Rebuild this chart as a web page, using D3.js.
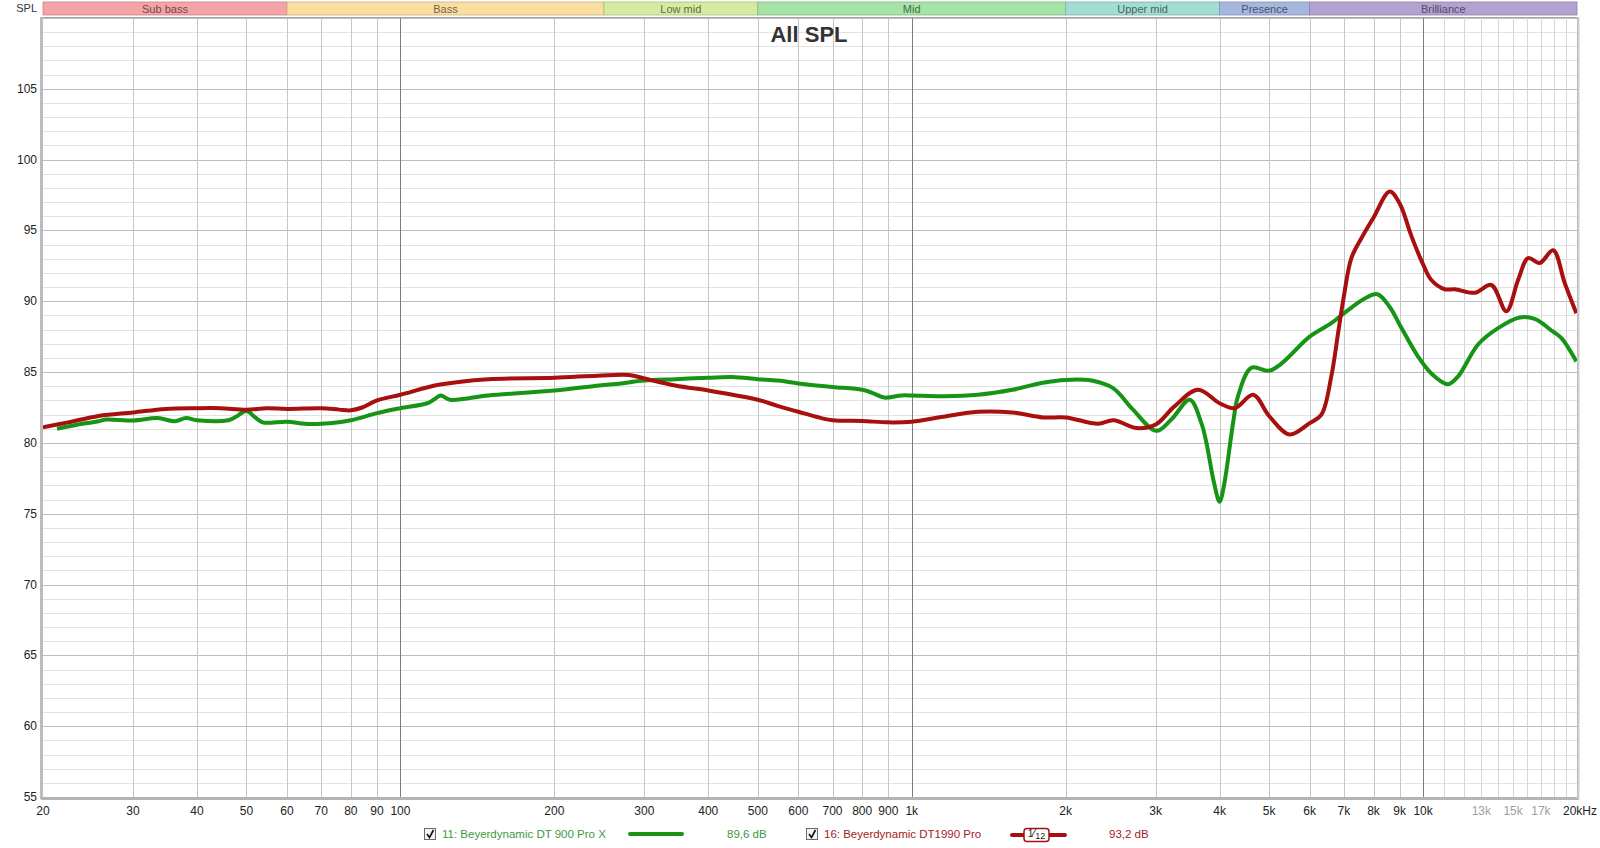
<!DOCTYPE html>
<html>
<head>
<meta charset="utf-8">
<script src="https://cdn.jsdelivr.net/npm/d3@7"></script>
<style>
  body { margin: 0; background: #fff; }
  svg { display: block; font-family: "Liberation Sans", Arial, sans-serif; }
</style>
</head>
<body>
<div id="chart"></div>
<script>
// frequency bands along the top
var bandNames = ["Sub bass", "Bass", "Low mid", "Mid", "Upper mid", "Presence", "Brilliance"];
var bandEdges = [20, 60, 250, 500, 2000, 4000, 6000, 20000];
var bandColors = ["#f5a3a6", "#f9dea0", "#d5eba0", "#a6e3a6", "#a2ddd3", "#a5b6df", "#b3a1d1"];

// DT 900 Pro X (green)
var greenFreq = [21.3, 23.2, 25.7, 26.6, 30, 33.5, 36.2, 38.1, 40, 46.1, 47.7, 50, 52, 53.8, 60, 65, 70, 80, 90,
  100, 112.8, 116.7, 119.8, 125, 148.5, 200, 245, 270, 300, 345, 400, 446, 500, 548, 600, 700, 800, 842, 883,
  954, 1000, 1153, 1347, 1573, 1805, 2000, 2247, 2480, 2700, 3010, 3218, 3498, 3685, 3770, 3900, 4000, 4080,
  4250, 4346, 4615, 5000, 5284, 6000, 6615, 7000, 7690, 8141, 8606, 9000, 9777, 10380, 11190, 11710, 12810,
  14020, 15450, 16530, 17960, 18650, 19940];
var greenDb = [81.0, 81.27, 81.53, 81.65, 81.58, 81.75, 81.53, 81.75, 81.6, 81.6, 81.85, 82.25, 81.8, 81.45, 81.5, 81.35, 81.35, 81.6, 82.1,
  82.45, 82.8, 83.1, 83.35, 83.05, 83.35, 83.7, 84.05, 84.2, 84.4, 84.5, 84.6, 84.65, 84.5, 84.4, 84.2, 83.95, 83.75, 83.5, 83.2,
  83.35, 83.35, 83.3, 83.4, 83.75, 84.25, 84.45, 84.4, 83.85, 82.4, 80.85, 81.65, 83.05, 81.4, 80.0, 77.2, 75.85, 77.0,
  81.4, 83.3, 85.3, 85.1, 85.6, 87.5, 88.45, 89.15, 90.2, 90.5, 89.6, 88.35, 86.1, 84.9, 84.15, 84.7, 86.95,
  88.1, 88.85, 88.75, 87.85, 87.4, 85.75];

// DT1990 Pro (red)
var redFreq = [20, 22.4, 25.7, 30, 34.7, 40, 44.5, 50, 54.8, 60, 70, 75.9, 80, 84.2, 90, 100, 118.8, 148.5, 200,
  243.5, 280, 300, 344.6, 400, 446, 500, 548, 600, 650, 700, 800, 900, 1000, 1153, 1347, 1573, 1805, 2000, 2314,
  2480, 2750, 3000, 3268, 3630, 4000, 4280, 4654, 5000, 5484, 6000, 6327, 6615, 6820, 7000, 7240, 7575, 8000,
  8606, 9000, 9489, 10000, 10380, 11020, 11530, 12620, 13600, 14550, 15340, 16050, 16910, 17960, 18920, 19940];
var redDb = [81.1, 81.45, 81.9, 82.15, 82.4, 82.45, 82.45, 82.35, 82.45, 82.4, 82.45, 82.35, 82.3, 82.5, 83.0, 83.4, 84.1, 84.5, 84.6,
  84.75, 84.8, 84.55, 84.05, 83.7, 83.4, 83.05, 82.6, 82.2, 81.85, 81.6, 81.55, 81.45, 81.5, 81.85, 82.2, 82.15, 81.8, 81.8, 81.35,
  81.6, 81.05, 81.3, 82.6, 83.75, 82.8, 82.45, 83.4, 81.9, 80.6, 81.4, 82.0, 84.7, 87.75, 90.35, 93.05, 94.45, 95.9,
  97.75, 96.9, 94.6, 92.6, 91.5, 90.85, 90.85, 90.6, 91.15, 89.3, 91.5, 93.05, 92.7, 93.6, 91.3, 89.15];

// axis ticks
var yTicks = [55, 60, 65, 70, 75, 80, 85, 90, 95, 100, 105];
var xTickFreq = [20, 30, 40, 50, 60, 70, 80, 90, 100, 200, 300, 400, 500, 600, 700, 800, 900,
  1000, 2000, 3000, 4000, 5000, 6000, 7000, 8000, 9000, 10000, 13000, 15000, 17000, 20000];
var xTickText = ["20", "30", "40", "50", "60", "70", "80", "90", "100", "200", "300", "400", "500", "600", "700", "800", "900",
  "1k", "2k", "3k", "4k", "5k", "6k", "7k", "8k", "9k", "10k", "13k", "15k", "17k", "20kHz"];
var dimTicks = ["13k", "15k", "17k"];

var legendNames = ["11: Beyerdynamic DT 900 Pro X", "16: Beyerdynamic DT1990 Pro"];
var legendValues = ["89,6 dB", "93,2 dB"];

var W = 1600, H = 848;
var plotL = 43, plotR = 1577, plotT = 17, plotB = 797;
var green = "#169416", red = "#a80f0f";

var svg = d3.select("#chart")
  .append("svg")
    .attr("width", W)
    .attr("height", H);

var x = d3.scaleLog()
  .domain([20, 20000])
  .range([plotL, plotR]);

var y = d3.scaleLinear()
  .domain([55, 110])
  .range([plotB, 18]);

// band strip
var bands = bandNames.map(function(n, i) { return {name: n, a: bandEdges[i], b: bandEdges[i + 1], c: bandColors[i]}; });
var bandG = svg.append("g");
bandG.selectAll("rect")
  .data(bands)
  .enter()
  .append("rect")
    .attr("x", function(d) { return x(d.a); })
    .attr("y", 2)
    .attr("width", function(d) { return x(d.b) - x(d.a); })
    .attr("height", 13)
    .attr("fill", function(d) { return d.c; })
    .attr("stroke", function(d) { return d3.color(d.c).darker(0.6); })
    .attr("stroke-width", 0.8);
bandG.selectAll("text")
  .data(bands)
  .enter()
  .append("text")
    .attr("x", function(d) { return (x(d.a) + x(d.b)) / 2; })
    .attr("y", 12.5)
    .attr("text-anchor", "middle")
    .style("font-size", "11px")
    .attr("fill", function(d) { return d3.color(d.c).darker(2.2); })
    .text(function(d) { return d.name; });

svg.append("text")
    .attr("x", 37)
    .attr("y", 12)
    .attr("text-anchor", "end")
    .style("font-size", "11px")
    .attr("fill", "#333")
    .text("SPL");

// grid
var grid = svg.append("g");
grid.selectAll(".hminor")
  .data(d3.range(56, 110).filter(function(v) { return v % 5 != 0; }))
  .enter()
  .append("line")
    .attr("x1", plotL).attr("x2", plotR)
    .attr("y1", function(d) { return Math.round(y(d)) + 0.5; })
    .attr("y2", function(d) { return Math.round(y(d)) + 0.5; })
    .attr("stroke", "#e3e3e3");
grid.selectAll(".hmajor")
  .data(yTicks.concat([110]).filter(function(v) { return v > 55; }))
  .enter()
  .append("line")
    .attr("x1", plotL).attr("x2", plotR)
    .attr("y1", function(d) { return Math.round(y(d)) + 0.5; })
    .attr("y2", function(d) { return Math.round(y(d)) + 0.5; })
    .attr("stroke", "#bdbdbd");

var vFreq = [];
[10, 100, 1000, 10000].forEach(function(dec) {
  for (var k = 1; k < 10; k++) {
    var f = dec * k;
    if (f > 20 && f < 20000) vFreq.push(f);
  }
});
[11000, 12000, 13000, 14000, 15000, 16000, 17000, 18000, 19000].forEach(function(f) { vFreq.push(f); });

grid.selectAll(".v")
  .data(vFreq)
  .enter()
  .append("line")
    .attr("x1", function(d) { return Math.round(x(d)) + 0.5; })
    .attr("x2", function(d) { return Math.round(x(d)) + 0.5; })
    .attr("y1", plotT).attr("y2", plotB)
    .attr("stroke", function(d) { return (d == 100 || d == 1000 || d == 10000) ? "#7d7d7d" : (d > 10000 ? "#d6d6d6" : "#c6c6c6"); });

// frame
svg.append("rect")
    .attr("x", plotL - 0.5).attr("y", plotT + 0.5)
    .attr("width", plotR - plotL + 1).attr("height", plotB - plotT)
    .attr("fill", "none")
    .attr("stroke", "#a8a8a8");
svg.append("line")
    .attr("x1", plotL - 1.5).attr("x2", plotL - 1.5)
    .attr("y1", plotT).attr("y2", plotB + 2)
    .attr("stroke", "#bcbcbc").attr("stroke-width", 3);
svg.append("line")
    .attr("x1", plotL - 2).attr("x2", plotR + 2)
    .attr("y1", plotB + 1.5).attr("y2", plotB + 1.5)
    .attr("stroke", "#b4b4b4").attr("stroke-width", 3);
svg.append("line")
    .attr("x1", plotR + 1.5).attr("x2", plotR + 1.5)
    .attr("y1", plotT).attr("y2", plotB + 2)
    .attr("stroke", "#cfcfcf").attr("stroke-width", 2);

// title
svg.append("text")
    .attr("x", 809)
    .attr("y", 42)
    .attr("text-anchor", "middle")
    .attr("font-weight", 700)
    .style("font-size", "22px")
    .attr("fill", "#333")
    .text("All SPL");

// y labels
svg.append("g").selectAll("text")
  .data(yTicks)
  .enter()
  .append("text")
    .attr("x", 37)
    .attr("y", function(d) { return y(d) + 4; })
    .attr("text-anchor", "end")
    .style("font-size", "12px")
    .attr("fill", "#222")
    .text(function(d) { return d; });

// x labels
svg.append("g").selectAll("text")
  .data(xTickFreq)
  .enter()
  .append("text")
    .attr("x", function(d, i) { return x(d) + (i == xTickFreq.length - 1 ? 3 : 0); })
    .attr("y", 815)
    .attr("text-anchor", "middle")
    .style("font-size", "12px")
    .attr("fill", function(d, i) { return dimTicks.indexOf(xTickText[i]) >= 0 ? "#a0a0a0" : "#222"; })
    .text(function(d, i) { return xTickText[i]; });

// curves
svg.append("clipPath")
    .attr("id", "plotclip")
  .append("rect")
    .attr("x", plotL).attr("y", plotT)
    .attr("width", plotR - plotL).attr("height", plotB - plotT);

var line = d3.line()
  .x(function(d) { return x(d[0]); })
  .y(function(d) { return y(d[1]); })
  .curve(d3.curveCatmullRom.alpha(0.5));

var curves = svg.append("g").attr("clip-path", "url(#plotclip)");
curves.append("path")
    .datum(d3.zip(greenFreq, greenDb))
    .attr("d", line)
    .attr("fill", "none")
    .attr("stroke", green)
    .attr("stroke-width", 4)
    .attr("stroke-linejoin", "round");
curves.append("path")
    .datum(d3.zip(redFreq, redDb))
    .attr("d", line)
    .attr("fill", "none")
    .attr("stroke", red)
    .attr("stroke-width", 4)
    .attr("stroke-linejoin", "round");

// legend
var legend = svg.append("g").style("font-size", "11.5px");
var boxX = [424, 806];
var textX = [442, 824];
var valX = [727, 1109];
var colors = ["#3d9a3d", "#a32222"];
[0, 1].forEach(function(i) {
  legend.append("rect")
      .attr("x", boxX[i] + 0.5).attr("y", 828.5)
      .attr("width", 11).attr("height", 11)
      .attr("fill", "#f4f4f4")
      .attr("stroke", "#6a6a6a");
  legend.append("path")
      .attr("d", "M" + (boxX[i] + 3) + ",834 L" + (boxX[i] + 5.5) + ",837.5 L" + (boxX[i] + 9.5) + ",830")
      .attr("fill", "none")
      .attr("stroke", "#111")
      .attr("stroke-width", 1.6);
  legend.append("text")
      .attr("x", textX[i]).attr("y", 838)
      .attr("fill", colors[i])
      .text(legendNames[i]);
  legend.append("text")
      .attr("x", valX[i]).attr("y", 838)
      .attr("fill", colors[i])
      .text(legendValues[i]);
});
legend.append("line")
    .attr("x1", 630).attr("x2", 682)
    .attr("y1", 834).attr("y2", 834)
    .attr("stroke", green).attr("stroke-width", 4)
    .attr("stroke-linecap", "round");
legend.append("line")
    .attr("x1", 1012).attr("x2", 1065)
    .attr("y1", 835).attr("y2", 835)
    .attr("stroke", red).attr("stroke-width", 4)
    .attr("stroke-linecap", "round");
legend.append("rect")
    .attr("x", 1024).attr("y", 828.5)
    .attr("width", 25).attr("height", 13)
    .attr("rx", 3)
    .attr("fill", "#fff")
    .attr("stroke", red).attr("stroke-width", 1.5);
var frac = legend.append("text")
    .attr("x", 1036.5).attr("y", 839)
    .attr("text-anchor", "middle")
    .attr("fill", "#222");
frac.append("tspan").attr("dy", -2).style("font-size", "10px").text("1");
frac.append("tspan").attr("dy", 0).style("font-size", "12px").text("\u2044");
frac.append("tspan").attr("dy", 2).style("font-size", "9px").text("12");
</script>
</body>
</html>
